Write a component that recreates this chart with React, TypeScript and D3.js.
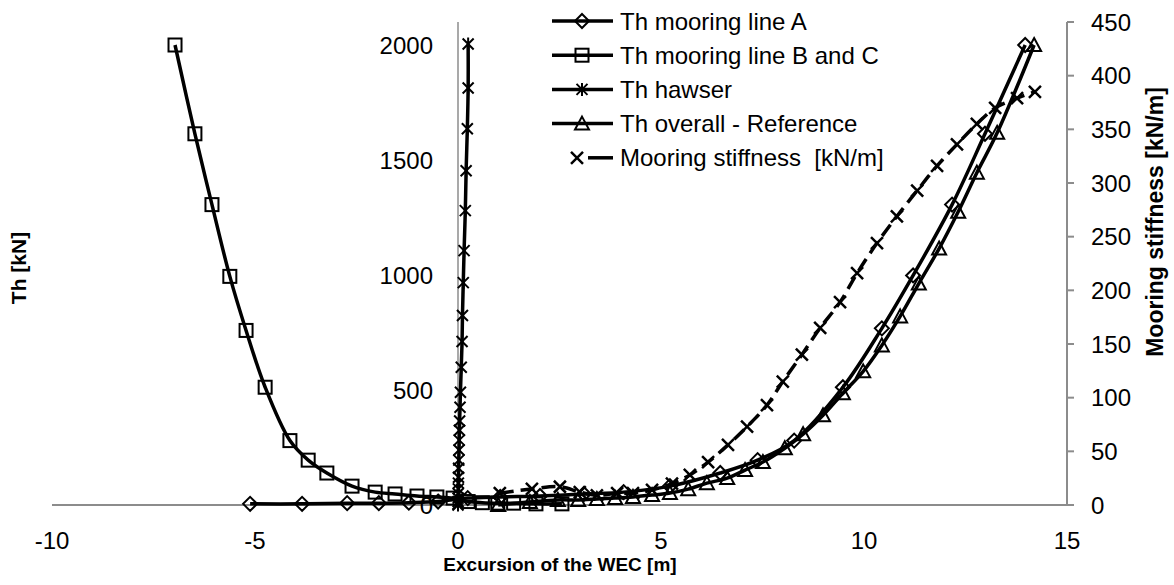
import React from "react";
import * as d3 from "d3";

// ---- data ----
const lineA_x = [-5.12, -3.84, -2.73, -1.95, -1.21, -0.49, 0.24, 1.04, 2.02, 3.1, 4.08, 5.22, 6.46, 7.38, 8.28, 9.48, 10.44, 11.21, 12.17, 12.98, 13.97];
const lineA_th = [5, 5, 8, 8, 10, 15, 30, 35, 39, 48, 56, 82, 139, 195, 280, 512, 768, 998, 1306, 1614, 2000];

const lineBC_x = [-6.97, -6.48, -6.06, -5.62, -5.22, -4.75, -4.14, -3.69, -3.23, -2.61, -2.04, -1.55, -1.01, -0.52, -0.12, 0.25, 0.6, 0.98, 1.37, 1.92, 2.56];
const lineBC_th = [2000, 1614, 1306, 994, 759, 512, 280, 195, 139, 82, 56, 48, 39, 35, 30, 15, 10, 8, 8, 5, 5];

const hawser_x = [0, 0.001, 0.002, 0.003, 0.005, 0.008, 0.01, 0.012, 0.015, 0.02, 0.025, 0.03, 0.035, 0.04, 0.05, 0.06, 0.08, 0.1, 0.11, 0.13, 0.15, 0.18, 0.2, 0.23, 0.25];
const hawser_th = [0, 5, 15, 30, 50, 70, 95, 121, 160, 195, 239, 282, 325, 365, 425, 490, 599, 711, 824, 967, 1106, 1280, 1453, 1636, 1813];
const hawser_top_x = [0.25];
const hawser_top_th = [2004];

const overall_x = [0.99, 1.77, 2.46, 2.96, 3.42, 3.87, 4.31, 4.78, 5.22, 5.67, 6.13, 6.63, 7.07, 7.51, 8.05, 8.5, 8.99, 9.48, 9.98, 10.44, 10.89, 11.35, 11.85, 12.32, 12.78, 13.28, 14.19];
const overall_th = [0, 13, 22, 22, 26, 30, 35, 43, 52, 69, 95, 117, 152, 187, 247, 308, 390, 486, 581, 694, 820, 963, 1115, 1275, 1445, 1618, 2000];

const stiff_x = [1.03, 1.82, 2.51, 3.0, 3.42, 3.92, 4.31, 4.78, 5.27, 5.71, 6.16, 6.65, 7.12, 7.61, 8.0, 8.47, 8.92, 9.41, 9.83, 10.32, 10.81, 11.31, 11.8, 12.29, 12.78, 13.23, 13.77, 14.21];
const stiff_k = [11, 15, 17, 12, 9, 11, 11, 14, 20, 28, 40, 56, 73, 93, 115, 140, 165, 189, 216, 244, 269, 293, 316, 336, 355, 370, 379, 385];

const xTicks = [-10, -5, 0, 5, 10, 15];
const yLeftTicks = [0, 500, 1000, 1500, 2000];
const yRightTicks = [0, 50, 100, 150, 200, 250, 300, 350, 400, 450];

const legendLabels = [
  "Th mooring line A",
  "Th mooring line B and C",
  "Th hawser",
  "Th overall - Reference",
  "Mooring stiffness  [kN/m]",
];

const W = 1174;
const H = 585;
const FONT = "'Liberation Sans', Arial, sans-serif";

const x = d3.scaleLinear().domain([-10, 15]).range([52, 1067]);
const yL = d3.scaleLinear().domain([0, 2100]).range([505, 22]);
const yR = d3.scaleLinear().domain([0, 450]).range([505, 22]);

type Pt = [number, number];
const zip = (a: number[], b: number[]): Pt[] => a.map((v, i) => [v, b[i]]);

const lineGen = (ys: d3.ScaleLinear<number, number>) =>
  d3
    .line<Pt>()
    .x((d) => x(d[0]))
    .y((d) => ys(d[1]))
    .curve(d3.curveCatmullRom.alpha(0.5));

type MarkerKind = "diamond" | "square" | "star" | "triangle" | "cross";

function Marker({ kind, cx, cy }: { kind: MarkerKind; cx: number; cy: number }) {
  const s = 7;
  const common = { fill: "none", stroke: "#000", strokeWidth: 2 };
  if (kind === "diamond")
    return <path d={`M${cx},${cy - s}L${cx + s},${cy}L${cx},${cy + s}L${cx - s},${cy}Z`} {...common} />;
  if (kind === "square")
    return <rect x={cx - 6.5} y={cy - 6.5} width={13} height={13} {...common} />;
  if (kind === "triangle")
    return <path d={`M${cx},${cy - 7}L${cx + 7},${cy + 6}L${cx - 7},${cy + 6}Z`} {...common} />;
  if (kind === "cross")
    return (
      <path d={`M${cx - 6},${cy - 6}L${cx + 6},${cy + 6}M${cx - 6},${cy + 6}L${cx + 6},${cy - 6}`} fill="none" stroke="#000" strokeWidth={2.5} />
    );
  return (
    <path
      d={`M${cx - 5.5},${cy - 5.5}L${cx + 5.5},${cy + 5.5}M${cx - 5.5},${cy + 5.5}L${cx + 5.5},${cy - 5.5}M${cx},${cy - 6.5}L${cx},${cy + 6.5}`}
      fill="none"
      stroke="#000"
      strokeWidth={2}
    />
  );
}

export default function App() {
  const axisColor = "#8c8c8c";
  const seriesA = zip(lineA_x, lineA_th);
  const seriesBC = zip(lineBC_x, lineBC_th);
  const seriesH = zip(hawser_x, hawser_th).concat(zip(hawser_top_x, hawser_top_th));
  const seriesO = zip(overall_x, overall_th);
  const seriesS = zip(stiff_x, stiff_k);

  const legendY = (i: number) => 21 + i * 34.2;
  const legendKinds: MarkerKind[] = ["diamond", "square", "star", "triangle", "cross"];

  return (
    <svg
      width={W}
      height={H}
      style={{ position: "absolute", left: 0, top: 0, background: "#fff" }}
      fontFamily={FONT}
    >
      <rect x={0} y={0} width={W} height={H} fill="#fff" />

      {/* axes */}
      <line x1={x(-10)} x2={x(15)} y1={yL(0)} y2={yL(0)} stroke={axisColor} strokeWidth={2} />
      <line x1={x(0)} x2={x(0)} y1={yL(0)} y2={yL(2100)} stroke={axisColor} strokeWidth={1.5} />
      <line x1={x(15)} x2={x(15)} y1={yR(0)} y2={yR(450)} stroke={axisColor} strokeWidth={2} />
      {yRightTicks.map((t) => (
        <line key={"rt" + t} x1={x(15)} x2={x(15) + 7} y1={yR(t)} y2={yR(t)} stroke={axisColor} strokeWidth={2} />
      ))}

      {/* tick labels */}
      {xTicks.map((t) => (
        <text key={"xt" + t} x={x(t)} y={540} fontSize={24} textAnchor="middle" dominantBaseline="central" fill="#000">
          {t}
        </text>
      ))}
      {yLeftTicks.map((t) => (
        <text key={"yl" + t} x={x(0) - 25} y={yL(t)} fontSize={24} textAnchor="end" dominantBaseline="central" fill="#000">
          {t}
        </text>
      ))}
      {yRightTicks.map((t) => (
        <text key={"yr" + t} x={1091} y={yR(t)} fontSize={24} textAnchor="start" dominantBaseline="central" fill="#000">
          {t}
        </text>
      ))}

      {/* axis titles */}
      <text x={560} y={564} fontSize={19} fontWeight="bold" textAnchor="middle" dominantBaseline="central">
        Excursion of the WEC [m]
      </text>
      <text
        transform={`translate(18,268) rotate(-90)`}
        fontSize={21}
        fontWeight="bold"
        textAnchor="middle"
        dominantBaseline="central"
      >
        Th [kN]
      </text>
      <text
        transform={`translate(1155,222) rotate(-90)`}
        fontSize={23}
        fontWeight="bold"
        textAnchor="middle"
        dominantBaseline="central"
      >
        Mooring stiffness [kN/m]
      </text>

      {/* series lines */}
      <path d={lineGen(yL)(seriesA) || ""} fill="none" stroke="#000" strokeWidth={3.5} />
      <path d={lineGen(yL)(seriesBC) || ""} fill="none" stroke="#000" strokeWidth={3.5} />
      <path d={lineGen(yL)(seriesH) || ""} fill="none" stroke="#000" strokeWidth={3.5} />
      <path d={lineGen(yL)(seriesO) || ""} fill="none" stroke="#000" strokeWidth={3.5} />
      <path d={lineGen(yR)(seriesS) || ""} fill="none" stroke="#000" strokeWidth={3.5} strokeDasharray="14,7" />

      {/* markers */}
      {seriesA.map((d, i) => (
        <Marker key={"ma" + i} kind="diamond" cx={x(d[0])} cy={yL(d[1])} />
      ))}
      {seriesBC.map((d, i) => (
        <Marker key={"mb" + i} kind="square" cx={x(d[0])} cy={yL(d[1])} />
      ))}
      {seriesH.map((d, i) => (
        <Marker key={"mh" + i} kind="star" cx={x(d[0])} cy={yL(d[1])} />
      ))}
      {seriesO.map((d, i) => (
        <Marker key={"mo" + i} kind="triangle" cx={x(d[0])} cy={yL(d[1])} />
      ))}
      {seriesS.map((d, i) => (
        <Marker key={"ms" + i} kind="cross" cx={x(d[0])} cy={yR(d[1])} />
      ))}

      {/* legend */}
      {legendLabels.map((lab, i) => {
        const yy = legendY(i);
        const dashed = i === 4;
        return (
          <g key={"lg" + i}>
            {dashed ? (
              <line x1={588} x2={613} y1={yy} y2={yy} stroke="#000" strokeWidth={3.5} />
            ) : (
              <line x1={552} x2={613} y1={yy} y2={yy} stroke="#000" strokeWidth={3.5} />
            )}
            <Marker kind={legendKinds[i]} cx={dashed ? 577 : 582} cy={yy} />
            <text x={620} y={yy} fontSize={24} dominantBaseline="central" fill="#000" style={{ whiteSpace: "pre" }}>
              {lab}
            </text>
          </g>
        );
      })}
    </svg>
  );
}
